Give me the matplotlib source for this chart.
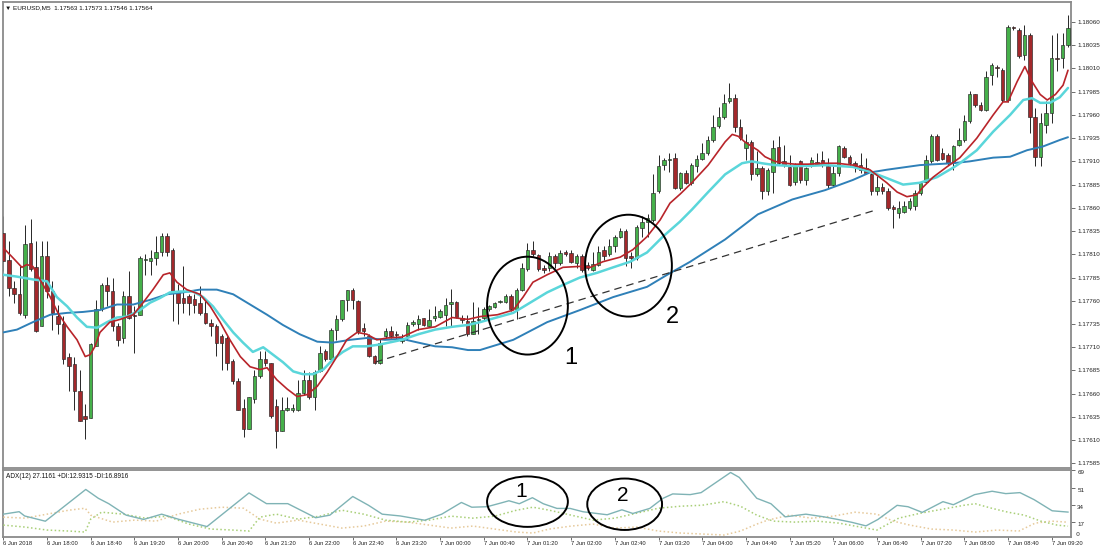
import matplotlib
matplotlib.use("Agg")
import matplotlib.pyplot as plt
from matplotlib import font_manager
from matplotlib.patches import Ellipse

# EURUSD M5 candles, 6 Jun 17:20 .. 7 Jun 09:35 (one entry per bar)
opens = [
    1.17833, 1.17804, 1.17774, 1.17767, 1.17745, 1.17822, 1.17796, 1.17733, 1.17808, 1.17770,
    1.17744, 1.17735, 1.17699, 1.17692, 1.17663, 1.17636, 1.17634, 1.17711, 1.17751, 1.17777,
    1.17770, 1.17733, 1.17720, 1.17765, 1.17745, 1.17745, 1.17804, 1.17803, 1.17806, 1.17812,
    1.17830, 1.17815, 1.17769, 1.17763, 1.17765, 1.17762, 1.17758, 1.17747, 1.17736, 1.17733,
    1.17722, 1.17720, 1.17695, 1.17674, 1.17645, 1.17622, 1.17654, 1.17679, 1.17697, 1.17693,
    1.17647, 1.17620, 1.17642, 1.17643, 1.17643, 1.17661, 1.17675, 1.17656, 1.17684, 1.17706,
    1.17697, 1.17729, 1.17740, 1.17761, 1.17772, 1.17760, 1.17731, 1.17722, 1.17701, 1.17693,
    1.17722, 1.17727, 1.17724, 1.17717, 1.17722, 1.17735, 1.17735, 1.17741, 1.17733, 1.17742,
    1.17743, 1.17745, 1.17757, 1.17759, 1.17742, 1.17738, 1.17724, 1.17739, 1.17741, 1.17751,
    1.17753, 1.17759, 1.17759, 1.17765, 1.17751, 1.17772, 1.17794, 1.17815, 1.17809, 1.17795,
    1.17795, 1.17808, 1.17801, 1.17813, 1.17811, 1.17801, 1.17808, 1.17799, 1.17793, 1.17799,
    1.17815, 1.17810, 1.17819, 1.17829, 1.17835, 1.17808, 1.17806, 1.17838, 1.17845, 1.17847,
    1.17878, 1.17906, 1.17911, 1.17914, 1.17881, 1.17897, 1.17887, 1.17905, 1.17913, 1.17919,
    1.17933, 1.17948, 1.17958, 1.17975, 1.17978, 1.17947, 1.17924, 1.17931, 1.17896, 1.17903,
    1.17878, 1.17899, 1.17925, 1.17910, 1.17904, 1.17888, 1.17910, 1.17890, 1.17906, 1.17909,
    1.17912, 1.17905, 1.17885, 1.17897, 1.17924, 1.17915, 1.17908, 1.17906, 1.17903, 1.17896,
    1.17878, 1.17882, 1.17878, 1.17861, 1.17854, 1.17855, 1.17860, 1.17862, 1.17876, 1.17888,
    1.17910, 1.17937, 1.17919, 1.17917, 1.17908, 1.17928, 1.17933, 1.17953, 1.17982, 1.17971,
    1.17965, 1.18003, 1.18012, 1.18008, 1.17976, 1.18055, 1.18051, 1.18024, 1.18046, 1.17958,
    1.17915, 1.17949, 1.17962, 1.18021, 1.18021, 1.18035,
]
highs = [
    1.17851, 1.17824, 1.17781, 1.17797, 1.17842, 1.17848, 1.17824, 1.17824, 1.17824, 1.17781,
    1.17756, 1.17744, 1.17704, 1.17699, 1.17685, 1.17649, 1.17715, 1.17761, 1.17779, 1.17786,
    1.17785, 1.17736, 1.17770, 1.17792, 1.17754, 1.17808, 1.17810, 1.17815, 1.17830, 1.17833,
    1.17833, 1.17817, 1.17778, 1.17797, 1.17767, 1.17767, 1.17776, 1.17760, 1.17740, 1.17735,
    1.17724, 1.17722, 1.17697, 1.17677, 1.17654, 1.17656, 1.17686, 1.17706, 1.17706, 1.17693,
    1.17654, 1.17656, 1.17656, 1.17649, 1.17675, 1.17686, 1.17683, 1.17686, 1.17711, 1.17708,
    1.17731, 1.17745, 1.17761, 1.17772, 1.17774, 1.17761, 1.17736, 1.17724, 1.17702, 1.17719,
    1.17731, 1.17733, 1.17727, 1.17724, 1.17737, 1.17739, 1.17745, 1.17742, 1.17751, 1.17754,
    1.17751, 1.17763, 1.17773, 1.17760, 1.17745, 1.17745, 1.17759, 1.17753, 1.17753, 1.17755,
    1.17759, 1.17761, 1.17767, 1.17767, 1.17774, 1.17801, 1.17822, 1.17824, 1.17810, 1.17799,
    1.17813, 1.17810, 1.17815, 1.17815, 1.17815, 1.17810, 1.17810, 1.17802, 1.17813, 1.17819,
    1.17819, 1.17826, 1.17831, 1.17838, 1.17837, 1.17813, 1.17842, 1.17851, 1.17853, 1.17896,
    1.17917, 1.17914, 1.17919, 1.17919, 1.17899, 1.17901, 1.17908, 1.17917, 1.17930, 1.17937,
    1.17960, 1.17969, 1.17982, 1.17994, 1.17982, 1.17956, 1.17939, 1.17933, 1.17921, 1.17905,
    1.17903, 1.17933, 1.17937, 1.17928, 1.17917, 1.17908, 1.17912, 1.17904, 1.17915, 1.17919,
    1.17921, 1.17914, 1.17906, 1.17928, 1.17926, 1.17917, 1.17910, 1.17919, 1.17914, 1.17897,
    1.17894, 1.17887, 1.17881, 1.17863, 1.17867, 1.17867, 1.17871, 1.17879, 1.17888, 1.17917,
    1.17939, 1.17939, 1.17924, 1.17919, 1.17928, 1.17946, 1.17960, 1.17986, 1.17983, 1.17974,
    1.18007, 1.18016, 1.18014, 1.18010, 1.18057, 1.18056, 1.18054, 1.18057, 1.18048, 1.17967,
    1.17962, 1.17975, 1.18046, 1.18048, 1.18048, 1.18067,
]
lows = [
    1.17792, 1.17765, 1.17758, 1.17745, 1.17742, 1.17792, 1.17726, 1.17733, 1.17763, 1.17729,
    1.17724, 1.17692, 1.17663, 1.17642, 1.17631, 1.17611, 1.17634, 1.17711, 1.17749, 1.17754,
    1.17727, 1.17711, 1.17715, 1.17740, 1.17704, 1.17745, 1.17788, 1.17788, 1.17799, 1.17808,
    1.17808, 1.17738, 1.17735, 1.17747, 1.17745, 1.17747, 1.17745, 1.17735, 1.17722, 1.17701,
    1.17686, 1.17686, 1.17670, 1.17643, 1.17613, 1.17622, 1.17650, 1.17677, 1.17690, 1.17634,
    1.17602, 1.17620, 1.17641, 1.17640, 1.17641, 1.17659, 1.17654, 1.17643, 1.17683, 1.17695,
    1.17697, 1.17718, 1.17738, 1.17749, 1.17751, 1.17724, 1.17722, 1.17699, 1.17692, 1.17692,
    1.17720, 1.17720, 1.17718, 1.17715, 1.17718, 1.17733, 1.17729, 1.17733, 1.17733, 1.17738,
    1.17742, 1.17733, 1.17733, 1.17742, 1.17736, 1.17722, 1.17724, 1.17724, 1.17739, 1.17749,
    1.17752, 1.17758, 1.17758, 1.17749, 1.17740, 1.17770, 1.17792, 1.17808, 1.17792, 1.17790,
    1.17792, 1.17795, 1.17799, 1.17808, 1.17801, 1.17795, 1.17791, 1.17793, 1.17792, 1.17797,
    1.17804, 1.17808, 1.17813, 1.17828, 1.17797, 1.17795, 1.17804, 1.17829, 1.17829, 1.17845,
    1.17876, 1.17901, 1.17899, 1.17880, 1.17879, 1.17886, 1.17885, 1.17899, 1.17912, 1.17917,
    1.17931, 1.17946, 1.17956, 1.17973, 1.17942, 1.17933, 1.17912, 1.17890, 1.17894, 1.17870,
    1.17874, 1.17876, 1.17906, 1.17904, 1.17883, 1.17885, 1.17887, 1.17885, 1.17904, 1.17906,
    1.17904, 1.17881, 1.17883, 1.17894, 1.17914, 1.17906, 1.17899, 1.17897, 1.17896, 1.17874,
    1.17874, 1.17875, 1.17858, 1.17838, 1.17849, 1.17854, 1.17858, 1.17858, 1.17874, 1.17887,
    1.17908, 1.17910, 1.17912, 1.17906, 1.17901, 1.17926, 1.17931, 1.17951, 1.17969, 1.17964,
    1.17964, 1.17992, 1.18001, 1.17974, 1.17974, 1.18051, 1.18021, 1.18019, 1.17940, 1.17905,
    1.17905, 1.17940, 1.17951, 1.18007, 1.18010, 1.18033,
]
closes = [
    1.17803, 1.17774, 1.17767, 1.17747, 1.17821, 1.17794, 1.17727, 1.17808, 1.17770, 1.17747,
    1.17735, 1.17697, 1.17690, 1.17663, 1.17631, 1.17633, 1.17713, 1.17751, 1.17777, 1.17770,
    1.17733, 1.17718, 1.17765, 1.17742, 1.17744, 1.17806, 1.17805, 1.17806, 1.17813, 1.17830,
    1.17813, 1.17769, 1.17758, 1.17758, 1.17758, 1.17756, 1.17747, 1.17736, 1.17733, 1.17715,
    1.17715, 1.17693, 1.17674, 1.17643, 1.17622, 1.17656, 1.17679, 1.17697, 1.17693, 1.17636,
    1.17620, 1.17643, 1.17645, 1.17645, 1.17661, 1.17675, 1.17656, 1.17683, 1.17704, 1.17697,
    1.17729, 1.17740, 1.17761, 1.17772, 1.17761, 1.17727, 1.17727, 1.17701, 1.17693, 1.17715,
    1.17727, 1.17722, 1.17723, 1.17720, 1.17734, 1.17737, 1.17740, 1.17734, 1.17739, 1.17743,
    1.17749, 1.17756, 1.17759, 1.17743, 1.17739, 1.17724, 1.17738, 1.17740, 1.17751, 1.17754,
    1.17758, 1.17760, 1.17765, 1.17751, 1.17772, 1.17795, 1.17815, 1.17810, 1.17794, 1.17793,
    1.17808, 1.17801, 1.17811, 1.17810, 1.17802, 1.17808, 1.17793, 1.17795, 1.17800, 1.17813,
    1.17808, 1.17819, 1.17829, 1.17835, 1.17806, 1.17806, 1.17839, 1.17845, 1.17849, 1.17876,
    1.17905, 1.17912, 1.17913, 1.17881, 1.17897, 1.17887, 1.17906, 1.17913, 1.17919, 1.17933,
    1.17947, 1.17958, 1.17973, 1.17978, 1.17947, 1.17935, 1.17931, 1.17896, 1.17903, 1.17878,
    1.17901, 1.17924, 1.17908, 1.17906, 1.17885, 1.17906, 1.17890, 1.17903, 1.17912, 1.17907,
    1.17907, 1.17885, 1.17897, 1.17926, 1.17915, 1.17908, 1.17905, 1.17901, 1.17897, 1.17878,
    1.17882, 1.17878, 1.17860, 1.17859, 1.17860, 1.17862, 1.17867, 1.17876, 1.17887, 1.17912,
    1.17937, 1.17912, 1.17913, 1.17908, 1.17926, 1.17933, 1.17953, 1.17982, 1.17971, 1.17965,
    1.18001, 1.18014, 1.18010, 1.17976, 1.18055, 1.18053, 1.18023, 1.18046, 1.17958, 1.17915,
    1.17951, 1.17962, 1.18021, 1.18020, 1.18035, 1.18054,
]

# moving averages as (bar, price)
red_ma = [
    (0, 1.17817), (1.8, 1.17806), (3.4, 1.17796), (4.3, 1.17799), (5.4, 1.17797), (6.7, 1.17783),
    (8.6, 1.17764), (10.0, 1.17747), (11.7, 1.17732), (13.5, 1.17718), (15.0, 1.17700), (15.9, 1.17702),
    (16.8, 1.17711), (17.7, 1.17726), (19.5, 1.17737), (21.4, 1.17740), (23.8, 1.17745), (25.6, 1.17758),
    (27.4, 1.17772), (29.3, 1.17788), (30.5, 1.17790), (31.8, 1.17780), (33.6, 1.17772), (36.0, 1.17767),
    (37.9, 1.17754), (39.7, 1.17737), (41.5, 1.17718), (43.4, 1.17700), (45.2, 1.17689), (47.0, 1.17686),
    (48.3, 1.17688), (50.1, 1.17675), (52.0, 1.17665), (53.8, 1.17657), (55.6, 1.17659), (57.5, 1.17668),
    (59.3, 1.17683), (61.1, 1.17700), (62.9, 1.17718), (64.8, 1.17726), (66.6, 1.17724), (68.4, 1.17718),
    (70.3, 1.17720), (73.0, 1.17721), (76.0, 1.17729), (79.1, 1.17732), (82.2, 1.17742), (85.1, 1.17740),
    (87.3, 1.17743), (90.5, 1.17745), (93.4, 1.17750), (95.2, 1.17764), (97.0, 1.17780), (99.6, 1.17788),
    (102.5, 1.17796), (105.6, 1.17797), (107.5, 1.17796), (109.8, 1.17802), (113.0, 1.17807), (115.3, 1.17815),
    (117.9, 1.17829), (120.3, 1.17847), (122.1, 1.17865), (124.0, 1.17875), (126.1, 1.17887), (129.1, 1.17906),
    (132.2, 1.17931), (133.5, 1.17939), (134.6, 1.17937), (135.8, 1.17931), (137.1, 1.17926), (138.2, 1.17922),
    (139.5, 1.17915), (141.3, 1.17910), (143.2, 1.17908), (145.0, 1.17907), (147.4, 1.17907), (150.5, 1.17908),
    (152.7, 1.17908), (155.6, 1.17906), (158.7, 1.17901), (161.8, 1.17887), (163.7, 1.17877), (165.5, 1.17872),
    (167.3, 1.17874), (168.4, 1.17882), (170.3, 1.17893), (172.8, 1.17904), (175.2, 1.17914), (178.3, 1.17935),
    (181.3, 1.17960), (183.1, 1.17974), (184.0, 1.17974), (185.7, 1.17996), (187.1, 1.18012), (188.4, 1.17996),
    (189.9, 1.17982), (191.2, 1.17976), (192.7, 1.17982), (194.1, 1.17992), (195.0, 1.18008),
]
cyan_ma = [
    (0, 1.17788), (2.5, 1.17786), (5.4, 1.17783), (8.0, 1.17781), (9.8, 1.17764), (11.7, 1.17754),
    (13.5, 1.17742), (15.3, 1.17732), (17.2, 1.17731), (19.0, 1.17737), (20.8, 1.17742), (22.7, 1.17743),
    (25.0, 1.17750), (26.9, 1.17758), (28.7, 1.17763), (30.5, 1.17769), (32.4, 1.17770), (34.7, 1.17770),
    (36.6, 1.17764), (38.4, 1.17754), (40.2, 1.17740), (42.1, 1.17726), (43.9, 1.17715), (45.7, 1.17705),
    (47.6, 1.17710), (49.4, 1.17702), (51.2, 1.17694), (53.1, 1.17684), (54.9, 1.17681), (56.7, 1.17681),
    (58.6, 1.17686), (60.4, 1.17697), (62.2, 1.17705), (64.0, 1.17711), (66.6, 1.17711), (69.0, 1.17713),
    (73.0, 1.17718), (76.0, 1.17724), (79.1, 1.17729), (82.2, 1.17732), (85.1, 1.17734), (87.3, 1.17737),
    (93.4, 1.17747), (96.5, 1.17758), (99.6, 1.17769), (102.5, 1.17777), (105.6, 1.17785), (108.7, 1.17790),
    (111.7, 1.17796), (114.8, 1.17802), (117.9, 1.17812), (120.8, 1.17829), (123.9, 1.17845), (126.1, 1.17858),
    (129.1, 1.17877), (132.2, 1.17896), (135.3, 1.17908), (137.1, 1.17910), (138.9, 1.17908), (141.3, 1.17906),
    (144.5, 1.17905), (147.4, 1.17905), (150.5, 1.17906), (155.6, 1.17904), (158.7, 1.17899), (161.8, 1.17892),
    (164.8, 1.17885), (167.9, 1.17887), (171.0, 1.17893), (173.9, 1.17903), (175.2, 1.17908), (178.3, 1.17922),
    (181.3, 1.17942), (184.4, 1.17960), (186.8, 1.17976), (188.4, 1.17978), (189.9, 1.17973), (191.7, 1.17973),
    (193.5, 1.17979), (195.0, 1.17989),
]
blue_ma = [
    (0, 1.17726), (2.5, 1.17729), (5.4, 1.17737), (8.6, 1.17745), (11.7, 1.17747), (14.6, 1.17748),
    (17.7, 1.17750), (20.8, 1.17756), (23.8, 1.17756), (26.9, 1.17761), (30.0, 1.17767), (32.9, 1.17769),
    (36.0, 1.17772), (39.1, 1.17772), (42.1, 1.17767), (45.2, 1.17756), (48.3, 1.17745), (51.2, 1.17734),
    (54.3, 1.17724), (57.5, 1.17716), (60.4, 1.17715), (63.5, 1.17718), (66.6, 1.17720), (69.9, 1.17718),
    (73.0, 1.17719), (76.0, 1.17715), (79.1, 1.17711), (82.2, 1.17710), (85.1, 1.17707), (87.3, 1.17707),
    (93.4, 1.17718), (99.6, 1.17737), (105.6, 1.17750), (111.7, 1.17764), (117.9, 1.17775), (121.6, 1.17788),
    (125.8, 1.17802), (132.2, 1.17826), (138.2, 1.17853), (144.5, 1.17869), (150.5, 1.17879), (155.6, 1.17890),
    (158.7, 1.17898), (161.8, 1.17901), (167.9, 1.17906), (173.9, 1.17908), (177.0, 1.17910), (181.3, 1.17914),
    (184.4, 1.17915), (187.5, 1.17922), (190.4, 1.17926), (193.5, 1.17933), (195.0, 1.17936),
]
trend_line = [(68.1, 1.17694), (160.0, 1.17858)]

# ADX(12) window, (bar, value)
adx = [
    (0, 25.0), (2.9, 27.5), (3.9, 23.2), (7.7, 17.9), (15.1, 49.9), (17.4, 41.0), (19.3, 35.6),
    (22.5, 24.0), (25.7, 19.7), (29.0, 25.0), (32.2, 19.7), (37.3, 12.5), (45.0, 46.4), (48.2, 35.6),
    (52.1, 35.6), (57.2, 21.4), (59.8, 24.0), (64.0, 42.8), (66.9, 33.9), (69.4, 25.0), (72.7, 23.2),
    (77.2, 18.9), (80.3, 25.0), (83.9, 36.8), (85.8, 32.0), (88.6, 32.5), (91.3, 36.5), (92.6, 38.5),
    (94.5, 35.5), (96.9, 41.6), (98.9, 35.5), (101.4, 30.8), (103.8, 30.8), (106.2, 27.4), (108.7, 25.7),
    (110.6, 24.4), (113.3, 29.4), (115.3, 25.7), (118.4, 30.8), (120.8, 40.9), (122.6, 45.4), (125.8, 44.7),
    (127.8, 46.7), (133.2, 67.0), (134.8, 62.0), (138.0, 41.0), (140.6, 35.5), (143.2, 22.3), (147.0, 25.0),
    (150.3, 22.3), (152.8, 19.7), (155.4, 16.8), (158.0, 13.2), (160.2, 19.7), (163.7, 33.9), (165.7, 32.5),
    (168.3, 26.8), (172.1, 37.6), (174.0, 34.5), (177.9, 44.7), (181.1, 48.1), (183.6, 45.7), (186.2, 46.7),
    (188.8, 39.6), (192.1, 28.4), (195.0, 27.1),
]
plus_di = [
    (0, 14), (4, 12), (8, 9), (12, 8), (15, 7), (16, 20), (18, 27), (22, 25), (26, 21), (30, 23),
    (34, 15), (38, 10), (42, 9), (45, 8), (47, 22), (50, 25), (54, 20), (58, 23), (62, 29), (66, 25),
    (70, 19), (74, 17), (78, 19), (82, 23), (86, 21), (90, 23), (94, 29), (97, 32), (100, 29), (104, 24),
    (108, 19), (112, 21), (116, 26), (120, 31), (124, 33), (128, 34), (132, 37.6), (135, 33), (138, 24),
    (141, 18), (145, 17), (149, 18), (153, 16), (157, 12), (160, 9), (164, 21), (168, 26), (172, 30),
    (176, 34), (178, 35.5), (181, 31), (184, 27), (187, 24), (190, 18), (193, 14), (195, 12.9),
]
minus_di = [
    (0, 22), (4, 21), (8, 25), (12, 29), (15, 31), (16, 24), (20, 17), (24, 19), (28, 18), (32, 25),
    (36, 30), (40, 32), (44, 31), (47, 20), (50, 16), (54, 19), (58, 15), (62, 11), (66, 13), (70, 18),
    (74, 17), (78, 14), (82, 11), (86, 13), (90, 10), (94, 7), (97, 6), (100, 10), (104, 13), (108, 15),
    (112, 11), (116, 12), (120, 8), (124, 6), (128, 5), (132, 4), (135, 8), (138, 15), (140, 19),
    (144, 24), (148, 21), (152, 23), (156, 27), (160, 25), (163, 18), (166, 14), (170, 10), (174, 9),
    (178, 7), (182, 9), (186, 8), (189, 16), (192, 18), (195, 16.9),
]

price_ticks = [1.17585, 1.17610, 1.17635, 1.17660, 1.17685, 1.17710, 1.17735, 1.17760, 1.17785, 1.17810,
               1.17835, 1.17860, 1.17885, 1.17910, 1.17935, 1.17960, 1.17985, 1.18010, 1.18035, 1.18060]
adx_ticks = [17, 34, 51, 69]
time_ticks = [0, 8, 16, 24, 32, 40, 48, 56, 64, 72, 80, 88, 96, 104, 112, 120, 128, 136, 144, 152,
              160, 168, 176, 184, 192]
time_labels = ["6 Jun 2018", "6 Jun 18:00", "6 Jun 18:40", "6 Jun 19:20", "6 Jun 20:00", "6 Jun 20:40",
               "6 Jun 21:20", "6 Jun 22:00", "6 Jun 22:40", "6 Jun 23:20", "7 Jun 00:00", "7 Jun 00:40",
               "7 Jun 01:20", "7 Jun 02:00", "7 Jun 02:40", "7 Jun 03:20", "7 Jun 04:00", "7 Jun 04:40",
               "7 Jun 05:20", "7 Jun 06:00", "7 Jun 06:40", "7 Jun 07:20", "7 Jun 08:00", "7 Jun 08:40",
               "7 Jun 09:20"]

installed = {f.name for f in font_manager.fontManager.ttflist}
narrow = "Liberation Sans Narrow" if "Liberation Sans Narrow" in installed else "Liberation Sans"
small_font = [narrow, "DejaVu Sans"]

W, H = 1100, 548
fig = plt.figure(figsize=(W / 100, H / 100), dpi=100)


def box(left, top, right, bottom):
    return [left / W, 1 - bottom / H, (right - left) / W, (bottom - top) / H]


ax = fig.add_axes(box(2.5, 1.5, 1071, 468))
adx_ax = fig.add_axes(box(2.5, 469.5, 1071, 537), sharex=ax)

frame = "#8a8a8a"
for a in (ax, adx_ax):
    for s in a.spines.values():
        s.set_color(frame)
        s.set_linewidth(1.3)

# candles
bull, bear, wick = "#45b04a", "#a3282b", "#262626"
xs = list(range(len(opens)))
ax.vlines(xs, lows, highs, color=wick, lw=0.7, zorder=2)
bottoms, heights, colors = [], [], []
for o, c in zip(opens, closes):
    bottoms.append(min(o, c))
    heights.append(max(abs(c - o), 0.000012))
    colors.append(bull if c > o else (bear if c < o else "#555555"))
ax.bar(xs, heights, bottom=bottoms, width=0.64, color=colors, edgecolor=wick, linewidth=0.45, zorder=3)

for line, col, lw in ((blue_ma, "#2f80b8", 1.4), (cyan_ma, "#5ad6da", 1.8), (red_ma, "#b8242a", 1.2)):
    lx, ly = zip(*line)
    ax.plot(lx, ly, color=col, lw=lw, zorder=4, solid_capstyle="round")

tx, ty = zip(*trend_line)
ax.plot(tx, ty, color="#333333", lw=0.9, ls=(0, (6, 4)), zorder=5)

# hand-drawn circles and numbers
ax.add_patch(Ellipse((96.0, 1.177548), 14.8, 0.001053, fill=False, ec="black", lw=1.4, zorder=6))
ax.add_patch(Ellipse((114.5, 1.177978), 15.9, 0.001096, fill=False, ec="black", lw=1.4, zorder=6))
ax.text(104.0, 1.176989, "1", fontsize=17, family="Liberation Sans", ha="center", va="center", zorder=6)
ax.text(122.5, 1.177430, "2", fontsize=17, family="Liberation Sans", ha="center", va="center", zorder=6)

ax.set_xlim(-0.15, 195.55)
ax.set_ylim(1.175801, 1.180820)
ax.yaxis.tick_right()
ax.set_yticks(price_ticks, [f"{p:.5f}" for p in price_ticks], fontfamily=small_font, fontsize=4.5)
ax.tick_params(axis="y", direction="out", length=3, width=0.6, color="#555555", labelcolor="#222222", pad=1.5)
ax.tick_params(axis="x", bottom=False, labelbottom=False)

# ADX window
for line, col, ls, lw in ((minus_di, "#e6c99a", (0, (1, 1.6)), 1.1),
                          (plus_di, "#a9cf78", (0, (1, 1.6)), 1.1),
                          (adx, "#7fb3b5", "-", 1.0)):
    lx, ly = zip(*line)
    adx_ax.plot(lx, ly, color=col, ls=ls, lw=lw, zorder=3)

adx_ax.add_patch(Ellipse((96.0, 37.6), 14.8, 50.8, fill=False, ec="black", lw=1.4, zorder=6))
adx_ax.add_patch(Ellipse((113.8, 35.0), 13.7, 51.8, fill=False, ec="black", lw=1.4, zorder=6))
adx_ax.text(94.8, 47.7, "1", fontsize=15, family="Liberation Sans", ha="center", va="center", zorder=6)
adx_ax.text(113.4, 44.2, "2", fontsize=15, family="Liberation Sans", ha="center", va="center", zorder=6)

adx_ax.set_ylim(2.0, 70.0)
adx_ax.yaxis.tick_right()
adx_ax.set_yticks(adx_ticks, [str(t) for t in adx_ticks], fontfamily=small_font, fontsize=4.5, va="top")
adx_ax.tick_params(axis="y", direction="out", length=3, width=0.6, color="#555555", labelcolor="#222222", pad=1.5)
adx_ax.text(1.0, 0.0, "   0", transform=adx_ax.transAxes, fontsize=4.5, family=small_font,
            ha="left", va="bottom", color="#222222", clip_on=False)

adx_ax.set_xticks(time_ticks, time_labels, fontfamily=small_font, fontsize=4.2, ha="left")
adx_ax.tick_params(axis="x", direction="out", length=2, width=0.6, color="#555555", labelcolor="#222222", pad=1)

fig.text(5 / W, 1 - 7.5 / H, "\u25bc EURUSD,M5  1.17563 1.17573 1.17546 1.17564",
         fontsize=4.6, family=small_font, va="center", color="#111111")
fig.text(6 / W, 1 - 476.5 / H, "ADX(12) 27.1161 +DI:12.9315 -DI:16.8916",
         fontsize=4.7, family=small_font, va="center", color="#111111")

fig.savefig("out.png", dpi=100, facecolor="white")
